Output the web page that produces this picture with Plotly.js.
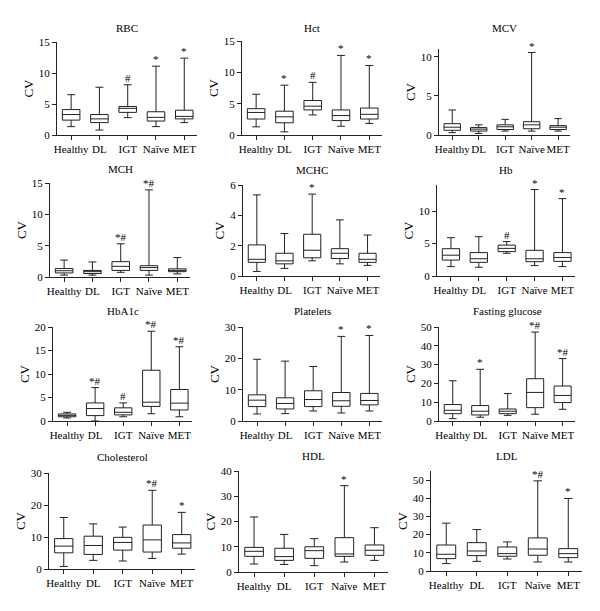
<!DOCTYPE html>
<html><head><meta charset="utf-8">
<script src="https://cdn.plot.ly/plotly-3.0.1.min.js"></script>
<style>body{margin:0;background:#fff}#chart{width:600px;height:611px}</style>
</head><body><div id="chart"></div>
<script>
// groups (x categories)
const groups = ["Healthy", "DL", "IGT", "Naïve", "MET"];

// each row: [min, Q1, median, Q3, max] per group
const RBC = [[1.35,2.4,3.3,4.1,6.5],[0.8,2.0,2.6,3.3,7.7],[2.8,3.65,4.3,4.6,8.1],[1.35,2.25,2.85,3.75,11.1],[2.0,2.6,3.0,4.0,12.4]];
const RBC_sig = ["", "", "#", "*", "*"];
const Hct = [[1.3,2.55,3.6,4.2,6.5],[0.5,1.95,2.9,3.8,7.95],[3.2,4.0,4.6,5.5,8.4],[1.4,2.3,3.1,4.0,12.7],[1.85,2.55,3.3,4.3,11.1]];
const Hct_sig = ["", "*", "#", "*", "*"];
const MCV = [[0.3,0.6,1.0,1.45,3.2],[0.2,0.5,0.75,0.95,1.3],[0.5,0.7,1.05,1.3,2.0],[0.5,0.8,1.3,1.7,10.55],[0.5,0.7,1.0,1.2,2.1]];
const MCV_sig = ["", "", "", "*", ""];
const MCH = [[0.3,0.65,1.0,1.35,2.7],[0.3,0.55,0.85,1.05,2.4],[0.75,1.05,1.7,2.45,5.3],[0.3,1.05,1.5,1.8,13.9],[0.5,0.85,1.05,1.3,3.1]];
const MCH_sig = ["", "", "*#", "*#", ""];
const MCHC = [[0.3,0.9,1.1,2.05,5.35],[0.5,0.8,1.0,1.5,2.8],[1.0,1.2,1.7,2.75,5.4],[0.8,1.15,1.5,1.8,3.7],[0.7,0.9,1.1,1.5,2.7]];
const MCHC_sig = ["", "", "*", "", ""];
const Hb = [[1.45,2.45,3.2,4.2,5.9],[1.35,2.1,2.65,3.6,6.05],[3.5,3.75,4.25,4.75,5.3],[1.6,2.2,2.65,3.95,13.3],[1.45,2.25,2.85,3.6,11.9]];
const Hb_sig = ["", "", "#", "*", "*"];
const HbA1c = [[0.65,0.9,1.2,1.5,1.85],[0.0,1.15,2.65,3.85,7.1],[0.9,1.3,1.85,2.8,3.85],[1.55,3.1,4.0,10.8,19.1],[0.9,2.35,3.8,6.7,15.8]];
const HbA1c_sig = ["", "*#", "#", "*#", "*#"];
const Platelets = [[2.25,4.6,6.65,8.35,19.7],[2.35,3.85,5.6,7.4,19.1],[3.2,4.6,6.85,9.65,17.4],[2.55,4.7,6.45,9.1,27.0],[3.2,5.15,6.55,8.8,27.3]];
const Platelets_sig = ["", "", "", "*", "*"];
const Glucose = [[1.25,3.9,5.7,8.75,21.4],[2.0,3.2,5.2,8.2,27.5],[3.0,3.9,5.2,6.4,14.6],[3.6,7.1,15.2,22.5,47.3],[6.25,9.8,13.6,18.6,33.2]];
const Glucose_sig = ["", "*", "", "*#", "*#"];
const Cholesterol = [[0.8,5.05,7.15,9.5,16.1],[2.7,4.55,7.35,10.25,14.1],[2.5,5.9,8.3,9.9,13.1],[3.3,5.3,9.1,13.75,24.6],[4.65,6.5,8.15,10.75,17.7]];
const Cholesterol_sig = ["", "", "", "*#", "*"];
const HDL = [[3.15,6.2,8.2,9.75,21.8],[3.0,4.6,6.1,9.4,14.9],[2.5,5.4,8.45,10.0,13.2],[3.95,6.2,7.15,13.6,34.2],[4.6,6.6,8.6,10.7,17.55]];
const HDL_sig = ["", "", "", "*", ""];
const LDL = [[4.05,6.8,9.2,14.3,26.3],[5.3,8.45,11.0,15.6,22.8],[6.6,8.1,9.55,13.2,16.0],[4.95,8.65,12.1,18.2,49.6],[4.95,7.35,9.55,12.3,39.9]];
const LDL_sig = ["", "", "", "*#", "*"];

const panels = [
  {title:"RBC", d:RBC, sig:RBC_sig, L:57, R:197, y0:135, yt:42, top:15, dt:5, ty:28},
  {title:"Hct", d:Hct, sig:Hct_sig, L:242, R:382, y0:135, yt:41, top:15, dt:5, ty:28},
  {title:"MCV", d:MCV, sig:MCV_sig, L:439, R:570, y0:135, yt:49, top:11, dt:5, ty:28},
  {title:"MCH", d:MCH, sig:MCH_sig, L:50, R:190, y0:277, yt:183, top:15, dt:5, ty:169},
  {title:"MCHC", d:MCHC, sig:MCHC_sig, L:243, R:380, y0:276, yt:185, top:6, dt:2, ty:170},
  {title:"Hb", d:Hb, sig:Hb_sig, L:437, R:575, y0:276, yt:185, top:14, dt:5, ty:170},
  {title:"HbA1c", d:HbA1c, sig:HbA1c_sig, L:53, R:192, y0:421, yt:327, top:20, dt:5, ty:311},
  {title:"Platelets", d:Platelets, sig:Platelets_sig, L:243, R:382, y0:421, yt:327, top:30, dt:10, ty:311},
  {title:"Fasting glucose", d:Glucose, sig:Glucose_sig, L:439, R:575, y0:421, yt:327, top:50, dt:10, ty:311},
  {title:"Cholesterol", d:Cholesterol, sig:Cholesterol_sig, L:49, R:195, y0:569, yt:473, top:30, dt:10, ty:457},
  {title:"HDL", d:HDL, sig:HDL_sig, L:239, R:388, y0:572, yt:471, top:40, dt:10, ty:456},
  {title:"LDL", d:LDL, sig:LDL_sig, L:431, R:582, y0:571, yt:471, top:55, dt:10, ty:456}
];

const W = 600, H = 611;
const FONT = "Liberation Serif, Times New Roman, serif";
const INK = "#000";
const traces = [];
const layout = {
  width: W, height: H, margin: {l:0, r:0, t:0, b:0},
  paper_bgcolor: "#fff", plot_bgcolor: "rgba(0,0,0,0)",
  showlegend: false, boxmode: "overlay",
  font: {family: FONT, color: INK, size: 11},
  annotations: []
};

panels.forEach((p, i) => {
  const n = i + 1;
  const xa = "x" + (n === 1 ? "" : n), ya = "y" + (n === 1 ? "" : n);
  const xk = "xaxis" + (n === 1 ? "" : n), yk = "yaxis" + (n === 1 ? "" : n);
  traces.push({
    type: "box", x: groups, xaxis: xa, yaxis: ya,
    lowerfence: p.d.map(r => r[0]), q1: p.d.map(r => r[1]),
    median: p.d.map(r => r[2]), q3: p.d.map(r => r[3]),
    upperfence: p.d.map(r => r[4]),
    boxpoints: false, width: 0.62, whiskerwidth: 0.45,
    fillcolor: "#fff", line: {color: "#222", width: 1},
    hoverinfo: "skip"
  });
  layout[xk] = {
    domain: [p.L / W, p.R / W], anchor: ya, type: "category",
    range: [-0.5, 4.45], showline: true, linecolor: "#222", linewidth: 1,
    ticks: "outside", ticklen: 4, tickcolor: "#222", showgrid: false, zeroline: false,
    tickangle: 0, automargin: false,
    tickfont: {family: FONT, size: 11, color: INK}, fixedrange: true
  };
  layout[yk] = {
    domain: [1 - p.y0 / H, 1 - p.yt / H], anchor: xa,
    range: [0, p.top], tick0: 0, dtick: p.dt,
    showline: true, linecolor: "#222", linewidth: 1,
    ticks: "outside", ticklen: 4, tickcolor: "#222", showgrid: false, zeroline: false,
    tickfont: {family: FONT, size: 11, color: INK},
    title: {text: "CV", font: {family: FONT, size: 13, color: INK}, standoff: 2},
    fixedrange: true
  };
  layout.annotations.push({
    text: p.title, xref: "paper", yref: "paper",
    x: (p.L + p.R) / 2 / W, y: 1 - p.ty / H, xanchor: "center", yanchor: "middle",
    showarrow: false, font: {family: FONT, size: 11, color: INK}
  });
  p.sig.forEach((s, j) => {
    if (!s) return;
    layout.annotations.push({
      text: s, xref: xa, yref: ya, x: groups[j], y: p.d[j][4],
      xanchor: "center", yanchor: "bottom", yshift: -1, showarrow: false,
      font: {family: FONT, size: 11, color: INK}
    });
  });
});

Plotly.newPlot("chart", traces, layout, {staticPlot: true, displayModeBar: false});
</script>
</body></html>
